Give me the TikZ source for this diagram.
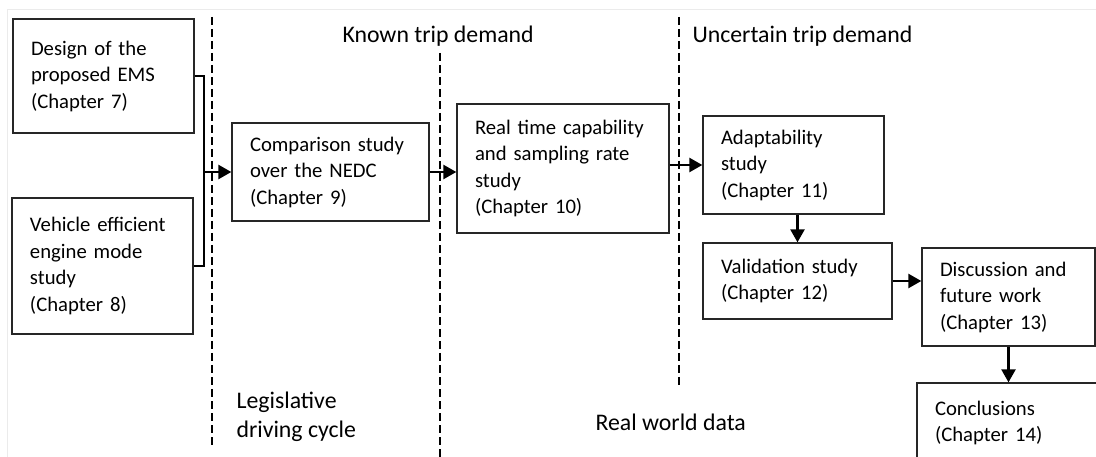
\documentclass[tikz,border=0pt]{standalone}
\usepackage{fontspec}
\setmainfont{Carlito}
\usetikzlibrary{arrows.meta}

\begin{document}
\begin{tikzpicture}[x=1pt,y=1pt,
  font=\fontsize{20.7pt}{26.5pt}\selectfont,
  chapbox/.style={draw=black!85, line width=1.3pt, align=left, inner xsep=18pt, inner ysep=0pt},
  phase/.style={font=\fontsize{23.8pt}{29pt}\selectfont},
  divider/.style={black, line width=2pt, dash pattern=on 8pt off 4pt},
  flow/.style={black, line width=2.4pt, -{Triangle[length=13pt,width=14pt]}}]
\useasboundingbox (0,0) rectangle (1096,-457);
\clip (0,0) rectangle (1096,-457);
\draw [black!8, line width=1pt] (7,-457) -- (7,-10) -- (1096,-10);
% phase dividers
\draw [divider] (212,-17) -- (212,-445);
\draw [divider] (440,-53) -- (440,-457);
\draw [divider] (679,-17) -- (679,-388);
% phase labels
\node [phase, anchor=base west] (known) at (339,-43) {Known trip demand};
\node [phase, anchor=base west] (uncertain) at (689,-43) {Uncertain trip demand};
\node [phase, anchor=west, align=left] (legis) at (233,-417) {Legislative\\driving cycle};
\node [phase, anchor=base west] (realworld) at (592,-430) {Real world data};
% chapters
\node [chapbox, text width=145pt, minimum height=114pt] (ch7) at (103.5,-76) {Design of the\\proposed EMS\\(Chapter 7)};
\node [chapbox, text width=145pt, minimum height=136pt] (ch8) at (102.5,-266) {Vehicle efficient\\engine mode\\study\\(Chapter 8)};
\node [chapbox, text width=161pt, minimum height=98pt] (ch9) at (330.5,-172) {Comparison study\\over the NEDC\\(Chapter 9)};
\node [chapbox, text width=176pt, minimum height=129pt] (ch10) at (563,-168.5) {Real time capability\\and sampling rate\\study\\(Chapter 10)};
\node [chapbox, text width=145pt, minimum height=98pt] (ch11) at (793.5,-165) {Adaptability\\study\\(Chapter 11)};
\node [chapbox, text width=153pt, minimum height=76pt] (ch12) at (797.5,-281) {Validation study\\(Chapter 12)};
\node [chapbox, text width=137pt, minimum height=98pt] (ch13) at (1008.5,-297) {Discussion and\\future work\\(Chapter 13)};
\node [chapbox, text width=144pt, minimum height=80pt] (ch14) at (1007,-423) {Conclusions\\(Chapter 14)};
% links
\coordinate (join) at (204,-172);
\draw [black, line width=2pt] (ch7.east) -| (join) |- (ch8.east);
\draw [flow] (join) -- (ch9.west);
\draw [flow] (ch9.east) -- (ch9.east -| ch10.west);
\draw [flow] (ch11.west -| ch10.east) -- (ch11.west);
\draw [flow] (ch12.north |- ch11.south) -- (ch12.north);
\draw [flow] (ch12.east) -- (ch12.east -| ch13.west);
\draw [flow] (ch13.south) -- (ch13.south |- ch14.north);
\end{tikzpicture}
\end{document}
